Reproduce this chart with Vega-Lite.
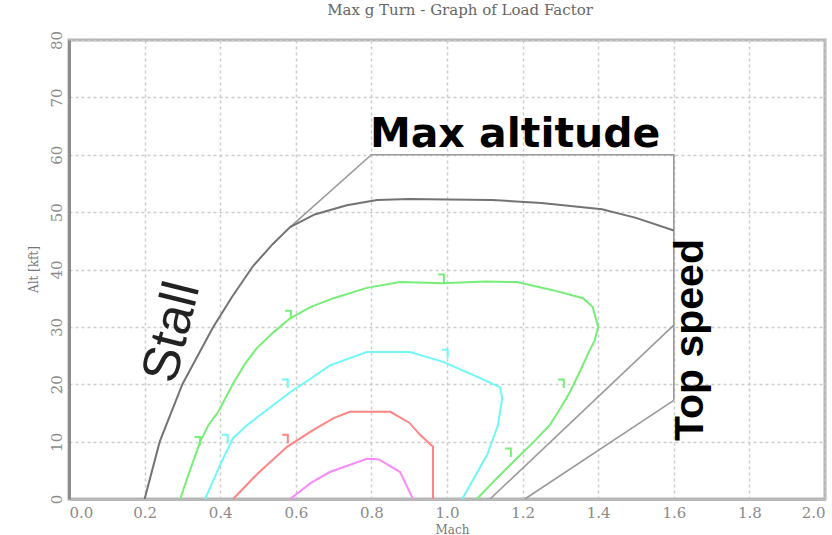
{
  "$schema": "https://vega.github.io/schema/vega-lite/v6.json",
  "width": 756,
  "height": 459,
  "autosize": {"type": "none"},
  "padding": {"left": 69, "top": 40, "right": 7, "bottom": 36},
  "background": "white",
  "title": {"text": "Max g Turn - Graph of Load Factor", "font": "DejaVu Serif", "fontSize": 15, "fontWeight": "normal", "color": "#666666", "anchor": "middle", "offset": 12, "dx": 13},
  "config": {
    "view": {"stroke": "#b4b4b4", "strokeWidth": 3},
    "axis": {"labelFont": "DejaVu Serif", "titleFont": "DejaVu Serif", "labelColor": "#8a8a8a", "titleColor": "#777777", "titleFontWeight": "normal", "ticks": false, "grid": true, "gridColor": "#cccccc", "gridDash": [3, 3], "gridWidth": 1.5}
  },
  "datasets": {
    "curves": [
      {"series": "envelope", "i": 1, "mach": 0.2, "alt": 0},
      {"series": "envelope", "i": 2, "mach": 0.24, "alt": 10},
      {"series": "envelope", "i": 3, "mach": 0.3, "alt": 20},
      {"series": "envelope", "i": 4, "mach": 0.38, "alt": 29.8},
      {"series": "envelope", "i": 5, "mach": 0.432, "alt": 35.3},
      {"series": "envelope", "i": 6, "mach": 0.487, "alt": 40.6},
      {"series": "envelope", "i": 7, "mach": 0.54, "alt": 44.5},
      {"series": "envelope", "i": 8, "mach": 0.585, "alt": 47.4},
      {"series": "envelope", "i": 9, "mach": 0.65, "alt": 49.6},
      {"series": "envelope", "i": 10, "mach": 0.735, "alt": 51.2},
      {"series": "envelope", "i": 11, "mach": 0.815, "alt": 52.1},
      {"series": "envelope", "i": 12, "mach": 0.9, "alt": 52.3},
      {"series": "envelope", "i": 13, "mach": 1.0, "alt": 52.2},
      {"series": "envelope", "i": 14, "mach": 1.12, "alt": 52.1},
      {"series": "envelope", "i": 15, "mach": 1.25, "alt": 51.6},
      {"series": "envelope", "i": 16, "mach": 1.41, "alt": 50.5},
      {"series": "envelope", "i": 17, "mach": 1.5, "alt": 49},
      {"series": "envelope", "i": 18, "mach": 1.6, "alt": 46.8},

      {"series": "green", "i": 1, "mach": 0.294, "alt": 0},
      {"series": "green", "i": 2, "mach": 0.32, "alt": 5},
      {"series": "green", "i": 3, "mach": 0.347, "alt": 10},
      {"series": "green", "i": 4, "mach": 0.37, "alt": 13},
      {"series": "green", "i": 5, "mach": 0.395, "alt": 15.2},
      {"series": "green", "i": 6, "mach": 0.435, "alt": 20.2},
      {"series": "green", "i": 7, "mach": 0.465, "alt": 23.5},
      {"series": "green", "i": 8, "mach": 0.497, "alt": 26.3},
      {"series": "green", "i": 9, "mach": 0.54, "alt": 29},
      {"series": "green", "i": 10, "mach": 0.585, "alt": 31.5},
      {"series": "green", "i": 11, "mach": 0.64, "alt": 33.5},
      {"series": "green", "i": 12, "mach": 0.7, "alt": 35},
      {"series": "green", "i": 13, "mach": 0.788, "alt": 36.8},
      {"series": "green", "i": 14, "mach": 0.876, "alt": 37.8},
      {"series": "green", "i": 15, "mach": 0.99, "alt": 37.6},
      {"series": "green", "i": 16, "mach": 1.1, "alt": 37.9},
      {"series": "green", "i": 17, "mach": 1.185, "alt": 37.8},
      {"series": "green", "i": 18, "mach": 1.28, "alt": 36.4},
      {"series": "green", "i": 19, "mach": 1.36, "alt": 35},
      {"series": "green", "i": 20, "mach": 1.385, "alt": 33.5},
      {"series": "green", "i": 21, "mach": 1.4, "alt": 30},
      {"series": "green", "i": 22, "mach": 1.39, "alt": 27.5},
      {"series": "green", "i": 23, "mach": 1.375, "alt": 25.6},
      {"series": "green", "i": 24, "mach": 1.35, "alt": 22},
      {"series": "green", "i": 25, "mach": 1.325, "alt": 18.6},
      {"series": "green", "i": 26, "mach": 1.3, "alt": 15.8},
      {"series": "green", "i": 27, "mach": 1.272, "alt": 12.9},
      {"series": "green", "i": 28, "mach": 1.23, "alt": 10},
      {"series": "green", "i": 29, "mach": 1.185, "alt": 7.1},
      {"series": "green", "i": 30, "mach": 1.13, "alt": 3.5},
      {"series": "green", "i": 31, "mach": 1.079, "alt": 0},

      {"series": "cyan", "i": 1, "mach": 0.36, "alt": 0},
      {"series": "cyan", "i": 2, "mach": 0.38, "alt": 3},
      {"series": "cyan", "i": 3, "mach": 0.4, "alt": 6},
      {"series": "cyan", "i": 4, "mach": 0.434, "alt": 10.6},
      {"series": "cyan", "i": 5, "mach": 0.47, "alt": 12.8},
      {"series": "cyan", "i": 6, "mach": 0.505, "alt": 14.6},
      {"series": "cyan", "i": 7, "mach": 0.585, "alt": 18.6},
      {"series": "cyan", "i": 8, "mach": 0.64, "alt": 21},
      {"series": "cyan", "i": 9, "mach": 0.69, "alt": 23.3},
      {"series": "cyan", "i": 10, "mach": 0.788, "alt": 25.6},
      {"series": "cyan", "i": 11, "mach": 0.902, "alt": 25.6},
      {"series": "cyan", "i": 12, "mach": 0.99, "alt": 23.9},
      {"series": "cyan", "i": 13, "mach": 1.07, "alt": 21.6},
      {"series": "cyan", "i": 14, "mach": 1.14, "alt": 19.5},
      {"series": "cyan", "i": 15, "mach": 1.146, "alt": 17.6},
      {"series": "cyan", "i": 16, "mach": 1.135, "alt": 12.9},
      {"series": "cyan", "i": 17, "mach": 1.106, "alt": 7.7},
      {"series": "cyan", "i": 18, "mach": 1.07, "alt": 3.5},
      {"series": "cyan", "i": 19, "mach": 1.04, "alt": 0},

      {"series": "red", "i": 1, "mach": 0.434, "alt": 0},
      {"series": "red", "i": 2, "mach": 0.5, "alt": 4.5},
      {"series": "red", "i": 3, "mach": 0.577, "alt": 9.1},
      {"series": "red", "i": 4, "mach": 0.64, "alt": 11.8},
      {"series": "red", "i": 5, "mach": 0.7, "alt": 14.1},
      {"series": "red", "i": 6, "mach": 0.743, "alt": 15.2},
      {"series": "red", "i": 7, "mach": 0.85, "alt": 15.2},
      {"series": "red", "i": 8, "mach": 0.9, "alt": 13.3},
      {"series": "red", "i": 9, "mach": 0.93, "alt": 11.1},
      {"series": "red", "i": 10, "mach": 0.963, "alt": 9.1},
      {"series": "red", "i": 11, "mach": 0.963, "alt": 0},

      {"series": "magenta", "i": 1, "mach": 0.585, "alt": 0},
      {"series": "magenta", "i": 2, "mach": 0.64, "alt": 2.8},
      {"series": "magenta", "i": 3, "mach": 0.69, "alt": 4.7},
      {"series": "magenta", "i": 4, "mach": 0.788, "alt": 7.0},
      {"series": "magenta", "i": 5, "mach": 0.82, "alt": 6.9},
      {"series": "magenta", "i": 6, "mach": 0.876, "alt": 4.7},
      {"series": "magenta", "i": 7, "mach": 0.91, "alt": 0}
    ],
    "callouts": [
      {"line": "a", "i": 1, "mach": 0.585, "alt": 47.4},
      {"line": "a", "i": 2, "mach": 0.8, "alt": 60},
      {"line": "a", "i": 3, "mach": 1.6, "alt": 60},
      {"line": "a", "i": 4, "mach": 1.6, "alt": 17.2},
      {"line": "b", "i": 1, "mach": 1.6, "alt": 30.3},
      {"line": "b", "i": 2, "mach": 1.114, "alt": 0},
      {"line": "c", "i": 1, "mach": 1.6, "alt": 17.2},
      {"line": "c", "i": 2, "mach": 1.206, "alt": 0}
    ],
    "labels": [
      {"series": "green", "mach": 0.345, "alt": 10.2},
      {"series": "green", "mach": 0.585, "alt": 32.2},
      {"series": "green", "mach": 0.99, "alt": 38.5},
      {"series": "green", "mach": 1.307, "alt": 20.2},
      {"series": "green", "mach": 1.167, "alt": 8.2},
      {"series": "cyan", "mach": 0.418, "alt": 10.6},
      {"series": "cyan", "mach": 0.577, "alt": 20.2},
      {"series": "cyan", "mach": 1.0, "alt": 25.4},
      {"series": "red", "mach": 0.577, "alt": 10.6}
    ]
  },
  "encoding": {
    "x": {"field": "mach", "type": "quantitative", "scale": {"domain": [0, 2], "nice": false, "zero": false},
      "axis": {"title": "Mach", "values": [0, 0.2, 0.4, 0.6, 0.8, 1.0, 1.2, 1.4, 1.6, 1.8, 2.0], "format": ".1f", "labelFontSize": 15, "labelPadding": 6, "titleFontSize": 12, "titleX": 383, "titleY": 30, "titleBaseline": "middle", "domainColor": "#b8b8b8", "domainWidth": 3}},
    "y": {"field": "alt", "type": "quantitative", "scale": {"domain": [0, 80], "nice": false},
      "axis": {"title": "Alt [kft]", "values": [0, 10, 20, 30, 40, 50, 60, 70, 80], "labelAngle": -90, "labelAlign": "center", "labelBaseline": "bottom", "labelFontSize": 15, "labelPadding": 5, "titleFontSize": 12, "titleAngle": -90, "titleX": -36, "titleY": 229, "titleAlign": "center", "titleBaseline": "middle", "domainColor": "#8c8c8c", "domainWidth": 3}}
  },
  "layer": [
    {
      "data": {"name": "callouts"},
      "mark": {"type": "line", "color": "#9a9a9a", "strokeWidth": 1.6},
      "encoding": {"detail": {"field": "line"}, "order": {"field": "i", "type": "quantitative"}}
    },
    {
      "data": {"name": "curves"},
      "mark": {"type": "line", "strokeWidth": 2},
      "encoding": {
        "color": {"field": "series", "type": "nominal", "legend": null,
          "scale": {"domain": ["envelope", "green", "cyan", "red", "magenta"], "range": ["#737373", "#77ee77", "#70f8f8", "#ff8484", "#f98af9"]}},
        "order": {"field": "i", "type": "quantitative"}
      }
    },
    {
      "data": {"name": "labels"},
      "mark": {"type": "point", "shape": "M -0.7 -0.5 L 0.1 -0.5 L 0.1 0.7", "filled": false, "strokeWidth": 2, "size": 200, "opacity": 1},
      "encoding": {"color": {"field": "series", "type": "nominal", "legend": null}}
    },
    {
      "data": {"values": [{"label": "Max altitude", "mach": 0.796, "alt": 61.3}]},
      "mark": {"type": "text", "font": "DejaVu Sans", "fontWeight": "bold", "fontSize": 41, "align": "left", "baseline": "alphabetic", "color": "#000000"},
      "encoding": {"text": {"field": "label"}}
    },
    {
      "data": {"values": [{"label": "Top speed", "mach": 1.646, "alt": 27.7}]},
      "mark": {"type": "text", "font": "Liberation Sans", "fontWeight": "bold", "fontSize": 41, "align": "center", "baseline": "middle", "angle": -90, "color": "#000000"},
      "encoding": {"text": {"field": "label"}}
    },
    {
      "data": {"values": [{"label": "Stall", "mach": 0.272, "alt": 29.1}]},
      "mark": {"type": "text", "font": "Liberation Sans", "fontSize": 52, "align": "center", "baseline": "middle", "angle": -76, "color": "#222222"},
      "encoding": {"text": {"field": "label"}}
    }
  ]
}
